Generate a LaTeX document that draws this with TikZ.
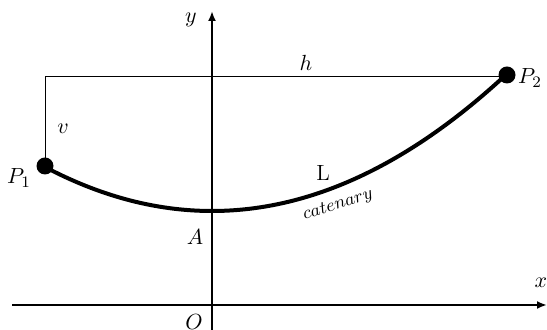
\documentclass[tikz,border=0pt]{standalone}
\usetikzlibrary{arrows.meta}
\begin{document}
\begin{tikzpicture}[x=0.5pt,y=-0.5pt,
  axis/.style={line width=1pt,-{Latex[length=5pt,width=4pt]}},
  thinline/.style={line width=0.5pt},
  cable/.style={line width=2pt},
  dot/.style={circle,fill=black,inner sep=0pt,minimum size=8.5pt},
  lbl/.style={inner sep=0pt,font=\fontsize{11}{13}\selectfont}]
\useasboundingbox (0,0) rectangle (547,330);
% axes
\coordinate (xs) at (12,305);
\coordinate (xe) at (547,305);
\coordinate (ys) at (212,330);
\coordinate (ye) at (212,11);
\draw[axis] (xs) -- (xe);
\draw[axis] (ys) -- (ye);
% points
\node[dot] (P1) at (45,166) {};
\node[dot] (P2) at (507,75) {};
\coordinate (C) at (45,77);
\coordinate (D) at (507,77);
\draw[thinline] (P1.center) -- (C) -- (D);
% catenary
\draw[cable,domain=-1.67:2.95,samples=80,smooth] plot ({212+100*\x},{211-15.77*\x*\x});
% labels
\node[lbl] (ly) at (191,20) {$y$};
\node[lbl] (lx) at (541,283) {$x$};
\node[lbl] (lh) at (306,63) {$h$};
\node[lbl] (lv) at (63,129) {$v$};
\node[lbl] (lP1) at (19,178) {$P_1$};
\node[lbl] (lP2) at (530,78) {$P_2$};
\node[lbl] (lL) at (323,173) {L};
\node[lbl,rotate=18,font=\fontsize{8.8}{10}\selectfont] (lcat) at (338,205) {$catenary$};
\node[lbl] (lA) at (195,237) {$A$};
\node[lbl] (lO) at (194,322) {$O$};
\end{tikzpicture}
\end{document}
